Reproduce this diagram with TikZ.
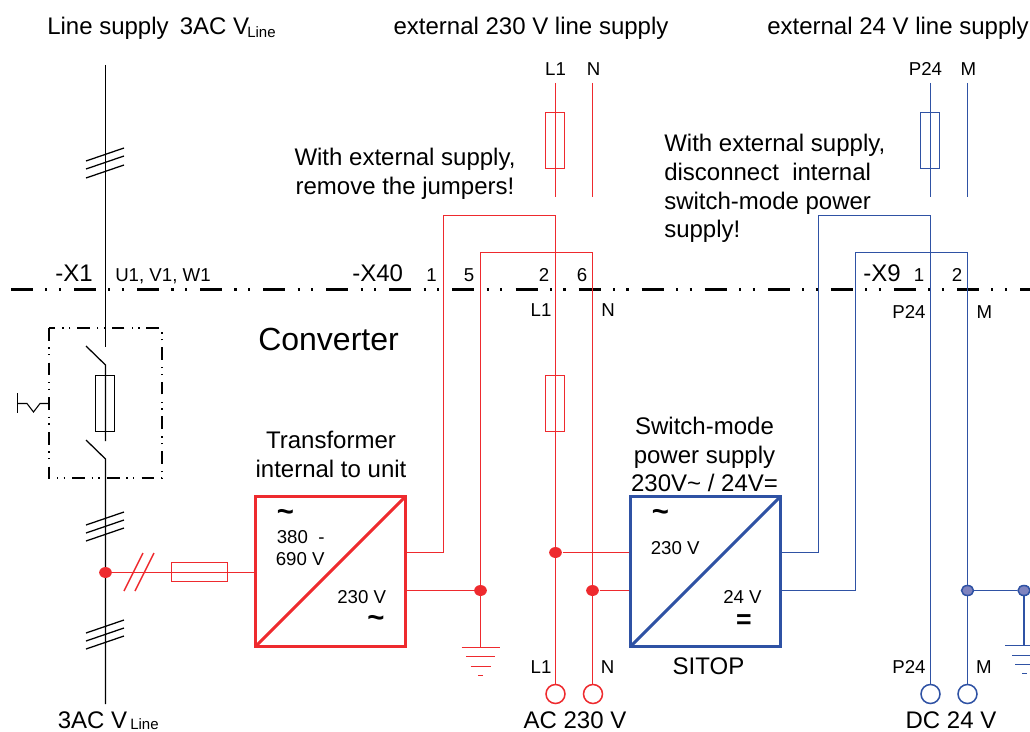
\documentclass[tikz,border=0pt]{standalone}
\usepackage{fontspec}
\usetikzlibrary{shapes.geometric}
\setmainfont{Liberation Sans}
\definecolor{linered}{HTML}{EE2A2E}
\definecolor{lineblue}{HTML}{2F52A4}
\definecolor{dotblue}{HTML}{7F83BF}
\tikzset{
	big/.style={inner sep=0, font=\fontsize{18}{21.6}\selectfont},
	small/.style={inner sep=0, font=\fontsize{14}{16.5}\selectfont},
	tiny/.style={inner sep=0, font=\fontsize{11.25}{12}\selectfont},
	wave/.style={inner sep=0, font=\bfseries\fontsize{22}{22}\selectfont},
	fuse/.style={rectangle, draw, inner sep=0, outer sep=0, minimum width=14.25pt, minimum height=42pt},
	conv/.style={rectangle, draw, line width=2.2pt, inner sep=0, outer sep=0, minimum size=112.5pt},
	port/.style={circle, draw, fill=white, inner sep=0, outer sep=0, minimum size=14.25pt},
	joint/.style={ellipse, fill=linered, inner sep=0, minimum width=9.5pt, minimum height=8.2pt},
	jointb/.style={ellipse, draw=lineblue, fill=dotblue, inner sep=0, minimum width=9pt, minimum height=7.5pt},
}
\begin{document}
\begin{tikzpicture}[x=.75pt, y=-.75pt]
	\useasboundingbox (0,0) rectangle (1030,731);
	% black feeder
	\begin{scope}[line width=.95pt]
		\node[fuse] (fuseQ) at (105,403.5) {};
		\coordinate (feedT) at (105.5,65);
		\coordinate (feedB) at (105.5,704);
		\draw (feedT) -- (105.5,347);
		\draw (86,346) -- (105.5,365) -- (105.5,441);
		\draw (86,440) -- (105.5,459) -- (feedB);
		\foreach \y in {161,169,178,525,533,541} \draw (86,\y) -- ++(38,-13);
		\foreach \y in {633,641,649} \draw (86,\y) -- ++(38,-13);
		\draw[line width=.8pt] (17.5,393) -- (17.5,413);
		\draw[line width=.8pt] (17.5,403.5) -- (27,403.5) -- (33.5,412) -- (40,403.5) -- (49,403.5);
		\draw[line width=.9pt, dash pattern=on 9.5pt off 5pt on 1pt off 4pt on 1pt off 5.5pt] (49,328) rectangle (162,478);
	\end{scope}
	\draw[line width=2pt, dash pattern=on 16.5pt off 9.2pt on 1.6pt off 8.6pt on 1.6pt off 9.8pt] (11,289.5) -- (1030,289.5);
	% red part
	\begin{scope}[linered, line width=1.15pt]
		\node[conv] (trafo) at (330.5,571.5) {};
		\draw[line width=2.2pt] (trafo.south west) -- (trafo.north east);
		\node[fuse, minimum height=14.25pt, minimum width=42pt] (fuseT) at (199.5,572) {};
		\coordinate (tap) at (105.5,572.5);
		\draw (tap) -- (trafo.west |- tap);
		\foreach \x in {0,11} \draw (143+\x,553) -- (124+\x,591);
		\node[joint] (tapdot) at (tap) {};
		\node[port] (portL) at (555.5,694) {};
		\node[port] (portN) at (593,694) {};
		\node[fuse] (fuseA) at (555,140.5) {};
		\node[fuse] (fuseB) at (555,403.5) {};
		\draw (555.5,83) -- (555.5,197);
		\draw (592.5,83) -- (592.5,197);
		\coordinate (trafoA) at (406,552.5);
		\coordinate (trafoB) at (406,590.5);
		\coordinate (gndR) at (480.5,590.5);
		\draw (trafoA) -| (443.5,215.5) -| (portL);
		\draw (trafoB) -- (gndR);
		\draw (gndR) |- (592.5,252.5) -- (592.5,685);
		\draw (gndR) -- (480.5,647);
		\foreach \y/\w in {647/19,656/14.5,666/10,675/2.5} \draw (480.5-\w,\y+.5) -- (480.5+\w,\y+.5);
		\node[joint] (gndRdot) at (gndR) {};
		\node[joint] (jointL) at (555.5,552.5) {};
		\node[joint] (jointN) at (592.5,590.5) {};
		\draw (jointL) -- (630,552.5);
		\draw (jointN) -- (630,590.5);
	\end{scope}
	% blue part
	\begin{scope}[lineblue, line width=1.15pt]
		\node[conv] (sitop) at (705.5,571.5) {};
		\draw[line width=2.2pt] (sitop.south west) -- (sitop.north east);
		\node[port] (portP) at (930.5,694) {};
		\node[port] (portM) at (967.5,694) {};
		\node[fuse] (fuseC) at (930,140.5) {};
		\draw (930.5,83) -- (930.5,197);
		\draw (967.5,83) -- (967.5,197);
		\coordinate (sitopA) at (781,552.5);
		\coordinate (sitopB) at (781,590.5);
		\draw (sitopA) -| (818.5,215.5) -| (portP);
		\draw (sitopB) -| (855.5,252.5) -| (portM);
		\node[jointb] (jointM) at (967.5,590.5) {};
		\node[jointb] (gndB) at (1024,590.5) {};
		\draw (jointM) -- (gndB);
		\draw (gndB) -- (1024,645);
		\foreach \y/\x in {645.5/1005,655.5/1012,664.5/1015} \draw (\x,\y) -- (1030,\y);
		\draw (1022,673.5) -- (1027,673.5);
	\end{scope}
	% texts
	\node[big, anchor=base west] (lbl1) at (47,34.5) {Line supply};
	\node[big, anchor=base west] (lbl2) at (179.5,35) {3AC V};
	\node[tiny, anchor=base west] (lbl3) at (247,37.7) {Line};
	\node[big, anchor=base] (lbl4) at (531,34.5) {external 230 V line supply};
	\node[big, anchor=base] (lbl5) at (898,34.5) {external 24 V line supply};
	\node[big, anchor=base west] (lbl7) at (57.5,728) {3AC V};
	\node[tiny, anchor=base west] (lbl8) at (130,729.5) {Line};
	\node[big, anchor=base] (lbl9) at (575,728) {AC 230 V};
	\node[big, anchor=base] (lbl10) at (951,728) {DC 24 V};
	\node[big, align=center] (note1) at (405,174) {With external supply,\\remove the jumpers!};
	\node[big, align=left, anchor=west] (note2) at (664,188.5) {With external supply,\\disconnect\ \ internal\\switch-mode power\\supply!};
	\node[big, anchor=base west] (x1) at (55,281) {-X1};
	\node[small, anchor=base west] (u1) at (115,281) {U1, V1, W1};
	\node[big, anchor=base west] (x40) at (352,281) {-X40};
	\node[big, anchor=base west] (x9) at (863,281) {-X9};
	\foreach \x/\t in {431.5/1,469/5,544/2,582/6,919/1,957/2}
		\node[small, anchor=base] (pin\t) at (\x,281) {\t};
	\foreach \x/\y/\t in {541/316/L1,608/316/N,909/318/P24,984.5/318/M}
		\node[small, anchor=base] (up\t) at (\x,\y) {\t};
	\foreach \x/\t in {541/L1,607.5/N,909/P24,984/M}
		\node[small, anchor=base] (low\t) at (\x,673) {\t};
	\foreach \x/\t in {555.5/L1,593.5/N,925.5/P24,968.5/M}
		\node[small, anchor=base] (top\t) at (\x,76) {\t};
	\node[inner sep=0, anchor=base west, font=\fontsize{24}{24}\selectfont] (conv) at (258,350) {Converter};
	\node[big, align=center] (ttl1) at (331,454.5) {Transformer\\internal to unit};
	\node[big, align=center] (ttl2) at (704.5,454.5) {Switch-mode\\power supply\\230V\textasciitilde{} / 24V=};
	\node[big, anchor=base] (sit) at (708.5,674) {SITOP};
	\node[small, anchor=base west] (v1) at (276.5,543) {380 \ -};
	\node[small, anchor=base west] (v1b) at (275.5,565) {690 V};
	\node[small, anchor=base west] (v2) at (337,603) {230 V};
	\node[small, anchor=base west] (v3) at (650.5,554) {230 V};
	\node[small, anchor=base west] (v4) at (723,603) {24 V};
	\node[wave] (til1) at (285.5,515) {\textasciitilde};
	\node[wave] (til2) at (376,621) {\textasciitilde};
	\node[wave] (til3) at (660.5,515) {\textasciitilde};
	\node[wave, font=\bfseries\fontsize{20}{20}\selectfont] (eq1) at (744,621.7) {=};
\end{tikzpicture}
\end{document}
